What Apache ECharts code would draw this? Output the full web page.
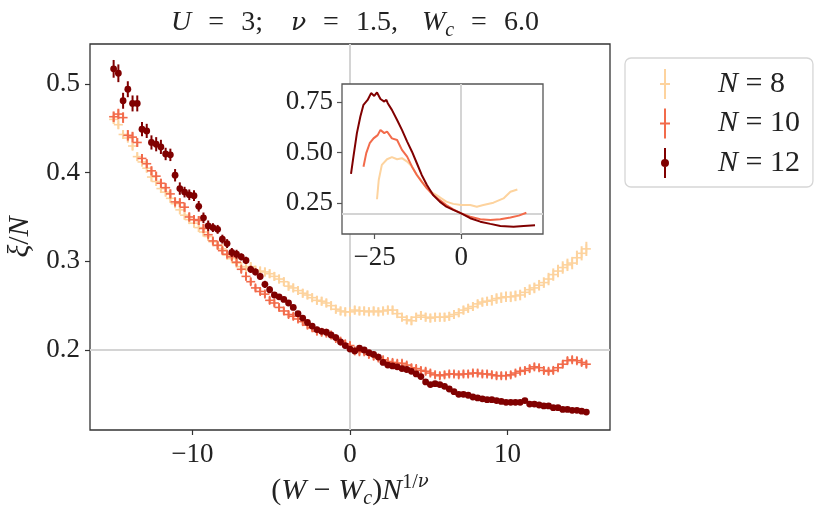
<!DOCTYPE html>
<html>
<head>
<meta charset="utf-8">
<script src="https://cdn.jsdelivr.net/npm/echarts@6/dist/echarts.min.js"></script>
<style>html,body{margin:0;padding:0;background:#fff}#c{width:830px;height:517px}</style>
</head>
<body>
<div id="c"></div>
<script>
// ---------- DATA ----------
const xs = [
 -15.0,-14.7,-14.4,-14.1,-13.8,-13.5,-13.2,-12.9,-12.6,-12.3,
 -12.0,-11.7,-11.4,-11.1,-10.8,-10.5,-10.2,-9.9,-9.6,-9.3,
 -9.0,-8.7,-8.4,-8.1,-7.8,-7.5,-7.2,-6.9,-6.6,-6.3,
 -6.0,-5.7,-5.4,-5.1,-4.8,-4.5,-4.2,-3.9,-3.6,-3.3,
 -3.0,-2.7,-2.4,-2.1,-1.8,-1.5,-1.2,-0.9,-0.6,-0.3,
 0.0,0.3,0.6,0.9,1.2,1.5,1.8,2.1,2.4,2.7,
 3.0,3.3,3.6,3.9,4.2,4.5,4.8,5.1,5.4,5.7,
 6.0,6.3,6.6,6.9,7.2,7.5,7.8,8.1,8.4,8.7,
 9.0,9.3,9.6,9.9,10.2,10.5,10.8,11.1,11.4,11.7,
 12.0,12.3,12.6,12.9,13.2,13.5,13.8,14.1,14.4,14.7,
 15.0
];
const n8 = [
 0.460,0.454,0.443,0.439,0.430,0.418,0.412,0.405,0.395,0.390,
 0.382,0.378,0.371,0.365,0.358,0.352,0.347,0.343,0.338,0.333,
 0.328,0.322,0.318,0.314,0.307,0.303,0.298,0.294,0.292,0.294,
 0.290,0.289,0.288,0.286,0.283,0.280,0.277,0.272,0.270,0.267,
 0.264,0.262,0.259,0.256,0.255,0.253,0.250,0.246,0.244,0.243,
 0.243,0.245,0.244,0.244,0.243,0.244,0.243,0.244,0.245,0.245,
 0.241,0.237,0.234,0.233,0.237,0.239,0.237,0.236,0.237,0.237,
 0.237,0.238,0.240,0.242,0.245,0.247,0.249,0.252,0.254,0.255,
 0.256,0.258,0.259,0.260,0.260,0.261,0.262,0.265,0.268,0.270,
 0.273,0.276,0.280,0.285,0.289,0.293,0.296,0.298,0.304,0.309,
 0.314
];
const err8 = [
 0.005,0.005,0.005,0.005,0.005,0.005,0.005,0.005,0.005,0.005,
 0.005,0.005,0.005,0.005,0.005,0.005,0.005,0.005,0.005,0.005,
 0.005,0.005,0.005,0.005,0.005,0.005,0.005,0.005,0.005,0.005,
 0.005,0.005,0.005,0.005,0.005,0.005,0.005,0.005,0.005,0.005,
 0.005,0.005,0.005,0.005,0.005,0.005,0.005,0.005,0.005,0.005,
 0.005,0.005,0.005,0.005,0.005,0.005,0.005,0.005,0.005,0.005,
 0.005,0.005,0.005,0.005,0.005,0.005,0.005,0.005,0.005,0.005,
 0.005,0.005,0.005,0.005,0.005,0.005,0.005,0.005,0.005,0.005,
 0.006,0.006,0.006,0.006,0.006,0.006,0.006,0.006,0.006,0.006,
 0.006,0.006,0.007,0.007,0.007,0.007,0.007,0.007,0.008,0.008,
 0.008
];
const n10 = [
 0.463,0.466,0.462,0.442,0.440,0.434,0.416,0.410,0.402,0.396,
 0.388,0.383,0.376,0.367,0.366,0.361,0.350,0.347,0.346,0.337,
 0.330,0.323,0.318,0.312,0.308,0.305,0.299,0.291,0.283,0.277,
 0.270,0.266,0.263,0.256,0.253,0.248,0.244,0.240,0.238,0.235,
 0.232,0.228,0.225,0.221,0.220,0.219,0.217,0.213,0.210,0.207,
 0.205,0.199,0.198,0.198,0.195,0.193,0.191,0.189,0.187,0.186,
 0.185,0.185,0.183,0.180,0.179,0.177,0.176,0.174,0.172,0.171,
 0.172,0.173,0.173,0.172,0.173,0.173,0.174,0.174,0.173,0.173,
 0.172,0.171,0.171,0.171,0.172,0.174,0.176,0.177,0.179,0.181,
 0.180,0.177,0.176,0.177,0.180,0.184,0.188,0.189,0.188,0.186,
 0.184
];
const err10 = [
 0.006,0.006,0.006,0.006,0.006,0.005,0.005,0.005,0.005,0.005,
 0.005,0.005,0.005,0.005,0.005,0.005,0.005,0.005,0.005,0.005,
 0.004,0.004,0.004,0.004,0.004,0.004,0.004,0.004,0.004,0.004,
 0.004,0.004,0.004,0.004,0.004,0.004,0.004,0.004,0.004,0.004,
 0.004,0.004,0.004,0.004,0.004,0.004,0.004,0.004,0.004,0.004,
 0.004,0.004,0.004,0.004,0.004,0.004,0.004,0.004,0.004,0.004,
 0.004,0.004,0.004,0.004,0.004,0.004,0.004,0.004,0.004,0.004,
 0.004,0.004,0.004,0.004,0.004,0.004,0.004,0.004,0.004,0.004,
 0.004,0.004,0.004,0.004,0.004,0.004,0.004,0.004,0.004,0.004,
 0.004,0.004,0.004,0.004,0.004,0.004,0.004,0.004,0.004,0.004,
 0.004
];
const n12 = [
 0.517,0.512,0.481,0.494,0.478,0.478,0.449,0.447,0.434,0.432,
 0.429,0.421,0.420,0.397,0.382,0.378,0.375,0.374,0.362,0.349,
 0.340,0.338,0.336,0.325,0.320,0.310,0.308,0.305,0.301,0.291,
 0.288,0.283,0.274,0.268,0.262,0.260,0.257,0.253,0.248,0.241,
 0.236,0.231,0.227,0.223,0.221,0.220,0.217,0.214,0.209,0.205,
 0.201,0.199,0.202,0.200,0.197,0.195,0.192,0.186,0.183,0.182,
 0.181,0.179,0.178,0.176,0.173,0.170,0.164,0.161,0.162,0.161,
 0.159,0.156,0.153,0.150,0.150,0.149,0.147,0.146,0.145,0.144,
 0.144,0.143,0.142,0.141,0.141,0.141,0.141,0.143,0.139,0.139,
 0.138,0.137,0.137,0.135,0.135,0.133,0.133,0.132,0.132,0.131,
 0.130
];
const err12 = [
 0.010,0.010,0.009,0.009,0.009,0.009,0.008,0.008,0.008,0.008,
 0.008,0.007,0.007,0.007,0.007,0.006,0.006,0.006,0.006,0.006,
 0.006,0.005,0.005,0.005,0.005,0.005,0.005,0.004,0.004,0.004,
 0.004,0.004,0.004,0.004,0.003,0.003,0.003,0.003,0.003,0.003,
 0.003,0.003,0.003,0.003,0.003,0.003,0.003,0.003,0.003,0.003,
 0.003,0.003,0.003,0.003,0.003,0.003,0.003,0.003,0.003,0.003,
 0.002,0.002,0.002,0.002,0.002,0.002,0.002,0.002,0.002,0.002,
 0.002,0.002,0.002,0.002,0.002,0.002,0.002,0.002,0.002,0.002,
 0.002,0.002,0.002,0.002,0.002,0.002,0.002,0.002,0.002,0.002,
 0.002,0.002,0.002,0.002,0.002,0.002,0.002,0.002,0.002,0.002,
 0.002
];
// inset (unscaled)
const in8x = [-24.3,-23.8,-22.9,-21.4,-20.0,-18.5,-17.1,-15.6,-14.2,-12.8,-11.4,-9.9,-8.1,-6.2,-4.3,-2.3,0,2.6,4.5,6.4,9.3,12.2,14.2,16.2];
const in8y = [0.270,0.365,0.440,0.468,0.478,0.468,0.473,0.456,0.431,0.390,0.357,0.324,0.300,0.280,0.258,0.247,0.241,0.241,0.233,0.241,0.253,0.274,0.307,0.318];
const in10x = [-28.2,-27.4,-26.4,-25.3,-24.1,-23.3,-22.2,-21.4,-20.0,-18.5,-17.1,-15.6,-14.2,-12.8,-11.4,-9.9,-8.1,-6.2,-4.3,-2.3,0,2.6,5.5,8.4,11.3,14.2,16.6,18.8];
const in10y = [0.431,0.498,0.547,0.571,0.587,0.613,0.597,0.605,0.571,0.563,0.514,0.481,0.431,0.390,0.357,0.324,0.291,0.266,0.241,0.220,0.200,0.184,0.171,0.167,0.171,0.180,0.189,0.203];
const in12x = [-31.8,-31.1,-30.1,-29.1,-28.2,-27.0,-26.0,-25.1,-24.3,-23.3,-22.2,-21.6,-21.2,-20.0,-18.5,-17.1,-15.6,-14.2,-12.8,-11.4,-9.9,-8.1,-6.2,-4.3,-2.3,0,2.6,5.5,8.4,11.3,15.1,18.0,21.3];
const in12y = [0.395,0.481,0.597,0.679,0.737,0.761,0.795,0.781,0.798,0.766,0.753,0.762,0.745,0.712,0.662,0.613,0.555,0.505,0.448,0.390,0.340,0.291,0.258,0.233,0.217,0.200,0.176,0.159,0.148,0.138,0.134,0.138,0.141];
const seriesNames = ['N = 8', 'N = 10', 'N = 12'];
const mainXTicks = [-10, 0, 10];
const mainYTicks = [0.2, 0.3, 0.4, 0.5];
const insetXTicks = [-25, 0];
const insetYTicks = [0.25, 0.5, 0.75];

// ---------- STYLE ----------
const FONT = 'Liberation Serif';
const GFONT = 'DejaVu Serif';
const C8 = '#fdd39e', C10 = '#f26b4b', C12 = '#800000';
const AX = '#333333';
const GRAYL = '#d4d4d4';
const TXT = '#222';
const minus = v => String(v).replace('-', '\u2212');

function errRender(color, kind) {
  return function (params, api) {
    const x = api.value(0), y = api.value(1), e = api.value(2);
    const c = api.coord([x, y]);
    const t = api.coord([x, y + e]);
    const b = api.coord([x, y - e]);
    const children = [{
      type: 'line',
      shape: { x1: c[0], y1: t[1], x2: c[0], y2: b[1] },
      style: { stroke: color, lineWidth: 2 }
    }];
    if (kind === 'plus') {
      children.push({ type: 'line', shape: { x1: c[0], y1: c[1] - 4.5, x2: c[0], y2: c[1] + 4.5 }, style: { stroke: color, lineWidth: 1.6 } });
      children.push({ type: 'line', shape: { x1: c[0] - 4.5, y1: c[1], x2: c[0] + 4.5, y2: c[1] }, style: { stroke: color, lineWidth: 1.6 } });
    } else {
      children.push({ type: 'circle', shape: { cx: c[0], cy: c[1], r: 3.4 }, style: { fill: color } });
    }
    return { type: 'group', children: children };
  };
}

function makeRich(fs, ss, lh) {
  return {
    i: { fontFamily: FONT, fontStyle: 'italic', fontSize: fs, lineHeight: lh, color: TXT },
    g: { fontFamily: GFONT, fontStyle: 'italic', fontSize: fs - 3, lineHeight: lh, color: TXT },
    r: { fontFamily: FONT, fontSize: fs, lineHeight: lh, color: TXT },
    sub: { fontFamily: FONT, fontStyle: 'italic', fontSize: ss, lineHeight: ss, verticalAlign: 'bottom', color: TXT },
    sup: { fontFamily: FONT, fontSize: ss, lineHeight: ss, verticalAlign: 'top', color: TXT },
    supg: { fontFamily: GFONT, fontStyle: 'italic', fontSize: ss - 2, lineHeight: ss, verticalAlign: 'top', color: TXT }
  };
}
const titleRich = makeRich(28, 20, 36);
titleRich.e = { fontFamily: FONT, fontSize: 28, lineHeight: 36, color: TXT, padding: [0, 17, 0, 17] };
titleRich.gp = { fontFamily: GFONT, fontStyle: 'italic', fontSize: 25, lineHeight: 36, color: TXT, padding: [0, 0, 0, 28] };
titleRich.ip = { fontFamily: FONT, fontStyle: 'italic', fontSize: 28, lineHeight: 36, color: TXT, padding: [0, 0, 0, 24] };
const axisRich = makeRich(30, 20, 36);

const plusIcon = 'path://M5,0 L7,0 L7,30 L5,30 Z M1,14 L11,14 L11,16 L1,16 Z';
const dotIcon = 'path://M5,0 L7,0 L7,30 L5,30 Z M6,11 A4,4 0 1 1 6,19 A4,4 0 1 1 6,11 Z';

const chart = echarts.init(document.getElementById('c'), null, { renderer: 'canvas' });
const option = {
  backgroundColor: '#fff',
  animation: false,
  title: {
    text: '{i|U}{e|=}{r|3;}{gp|ν}{e|=}{r|1.5,}{ip|W}{sub|c}{e|=}{r|6.0}',
    left: 350, top: 0, textAlign: 'center',
    textStyle: { fontFamily: FONT, fontSize: 28, fontWeight: 'normal', rich: titleRich }
  },
  legend: {
    orient: 'vertical', left: 625, top: 58,
    padding: [11, 13, 9, 35],
    itemGap: 9.5, itemWidth: 12, itemHeight: 30,
    borderColor: '#d6d6d6', borderWidth: 1.3, borderRadius: 6,
    data: [
      { name: seriesNames[0], icon: plusIcon },
      { name: seriesNames[1], icon: plusIcon },
      { name: seriesNames[2], icon: dotIcon }
    ],
    formatter: n => '{li|N}{lr| = ' + n.split('= ')[1] + '}',
    textStyle: {
      rich: {
        li: { fontFamily: FONT, fontStyle: 'italic', fontSize: 30, lineHeight: 30, color: TXT, padding: [0, 0, 0, 42] },
        lr: { fontFamily: FONT, fontSize: 30, lineHeight: 30, color: TXT }
      }
    }
  },
  grid: [
    { left: 90, top: 44, width: 520, height: 386, show: true, borderColor: AX, borderWidth: 1.3, backgroundColor: 'transparent', outerBoundsMode: 'none', containLabel: false },
    { left: 342, top: 84, width: 201, height: 150, show: true, borderColor: '#555', borderWidth: 1.3, backgroundColor: '#fff', z: 10, outerBoundsMode: 'none', containLabel: false }
  ],
  xAxis: [
    {
      type: 'value', gridIndex: 0, min: -16.5, max: 16.5,
      splitLine: { show: false }, axisLine: { show: false, onZero: false },
      axisTick: { show: true, length: 5, lineStyle: { color: AX, width: 1.2 }, customValues: mainXTicks },
      axisLabel: { customValues: mainXTicks, formatter: minus, fontFamily: FONT, fontSize: 27, color: TXT, margin: 11 },
      name: '{r|(}{i|W}{r| − }{i|W}{sub|c}{r|)}{i|N}{sup|1/}{supg|ν}',
      nameLocation: 'middle', nameGap: 40,
      nameTextStyle: { rich: axisRich }
    },
    {
      type: 'value', gridIndex: 1, min: -34.4, max: 23.6, z: 11,
      splitLine: { show: false }, axisLine: { show: false, onZero: false },
      axisTick: { show: true, length: 5, lineStyle: { color: '#555', width: 1.2 }, customValues: insetXTicks },
      axisLabel: { customValues: insetXTicks, formatter: minus, fontFamily: FONT, fontSize: 27, color: TXT, margin: 10 }
    }
  ],
  yAxis: [
    {
      type: 'value', gridIndex: 0, min: 0.1098, max: 0.545,
      splitLine: { show: false }, axisLine: { show: false, onZero: false },
      axisTick: { show: true, length: 5, lineStyle: { color: AX, width: 1.2 }, customValues: mainYTicks },
      axisLabel: { customValues: mainYTicks, formatter: v => v.toFixed(1), fontFamily: FONT, fontSize: 27, color: TXT, margin: 10 },
      name: '{i|ξ}{r|/}{i|N}',
      nameLocation: 'middle', nameGap: 52, nameRotate: 90,
      nameTextStyle: { rich: axisRich }
    },
    {
      type: 'value', gridIndex: 1, min: 0.098, max: 0.84, z: 11,
      splitLine: { show: false }, axisLine: { show: false, onZero: false },
      axisTick: { show: true, length: 5, lineStyle: { color: '#555', width: 1.2 }, customValues: insetYTicks },
      axisLabel: { customValues: insetYTicks, formatter: v => v.toFixed(2), fontFamily: FONT, fontSize: 27, color: TXT, margin: 9 }
    }
  ],
  series: [
    {
      type: 'line', xAxisIndex: 0, yAxisIndex: 0, data: [], silent: true, z: 1,
      markLine: {
        silent: true, symbol: 'none', label: { show: false }, z: 1,
        lineStyle: { color: GRAYL, width: 2, type: 'solid' },
        data: [{ xAxis: 0 }, { yAxis: 0.2 }]
      }
    },
    {
      name: seriesNames[0], type: 'custom', xAxisIndex: 0, yAxisIndex: 0, z: 2,
      itemStyle: { color: C8 },
      data: xs.map((x, i) => [x, n8[i], err8[i]]),
      encode: { x: 0, y: 1 },
      renderItem: errRender(C8, 'plus')
    },
    {
      name: seriesNames[1], type: 'custom', xAxisIndex: 0, yAxisIndex: 0, z: 2,
      itemStyle: { color: C10 },
      data: xs.map((x, i) => [x, n10[i], err10[i]]),
      encode: { x: 0, y: 1 },
      renderItem: errRender(C10, 'plus')
    },
    {
      name: seriesNames[2], type: 'custom', xAxisIndex: 0, yAxisIndex: 0, z: 2,
      itemStyle: { color: C12 },
      data: xs.map((x, i) => [x, n12[i], err12[i]]),
      encode: { x: 0, y: 1 },
      renderItem: errRender(C12, 'dot')
    },
    {
      type: 'line', xAxisIndex: 1, yAxisIndex: 1, data: [], silent: true, z: 11,
      markLine: {
        silent: true, symbol: 'none', label: { show: false }, z: 11,
        lineStyle: { color: GRAYL, width: 2, type: 'solid' },
        data: [{ xAxis: 0 }, { yAxis: 0.2 }]
      }
    },
    {
      type: 'line', xAxisIndex: 1, yAxisIndex: 1, z: 12, showSymbol: false, silent: true,
      lineStyle: { color: C8, width: 2 },
      data: in8x.map((x, i) => [x, in8y[i]])
    },
    {
      type: 'line', xAxisIndex: 1, yAxisIndex: 1, z: 12, showSymbol: false, silent: true,
      lineStyle: { color: C10, width: 2 },
      data: in10x.map((x, i) => [x, in10y[i]])
    },
    {
      type: 'line', xAxisIndex: 1, yAxisIndex: 1, z: 12, showSymbol: false, silent: true,
      lineStyle: { color: C12, width: 2 },
      data: in12x.map((x, i) => [x, in12y[i]])
    }
  ]
};
chart.setOption(option);
</script>
</body>
</html>
